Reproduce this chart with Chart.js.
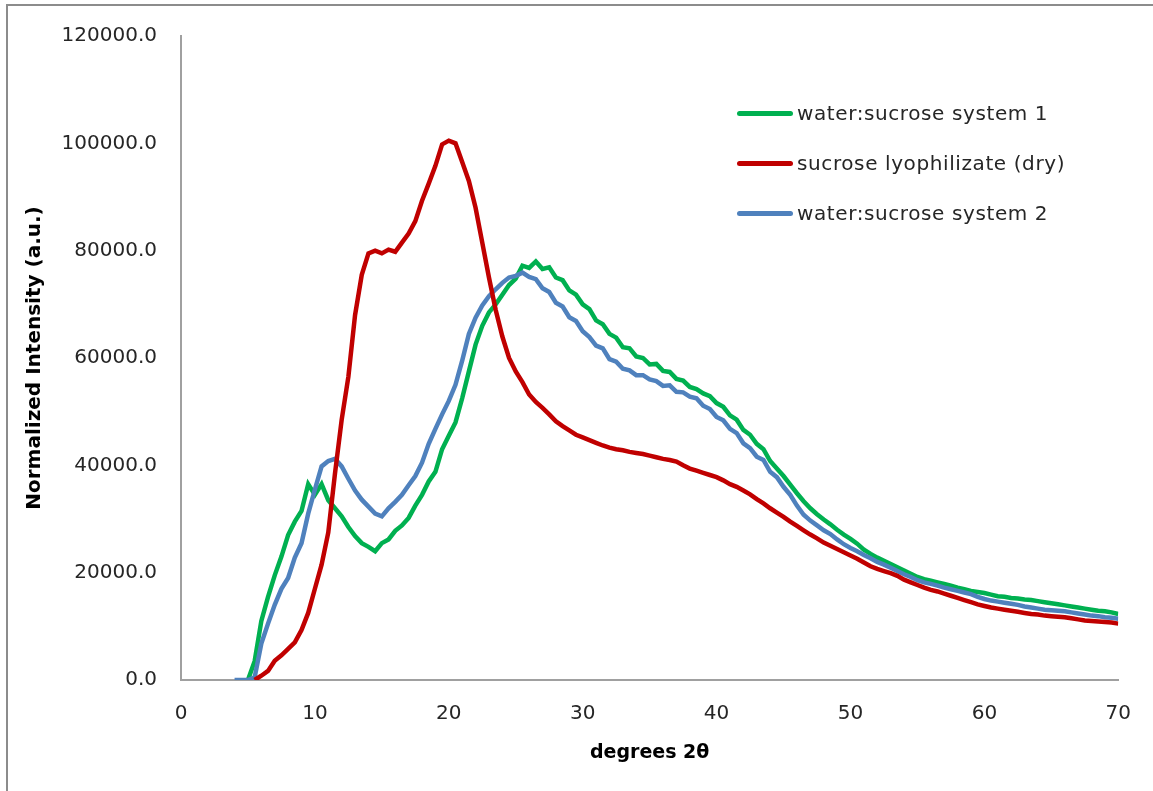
<!DOCTYPE html>
<html>
<head>
<meta charset="utf-8">
<script src="https://cdn.jsdelivr.net/npm/chart.js@4/dist/chart.umd.min.js"></script>
<style>
  html, body { margin: 0; padding: 0; background: #fff; overflow: hidden; }
  #wrap { position: relative; width: 1153px; height: 791px; overflow: hidden; }
  #frame { position: absolute; left: 6px; top: 4px; width: 1200px; height: 900px; border: 2px solid #8c8c8c; pointer-events: none; }
  #legend { position: absolute; left: 737px; top: 100px; font-family: "DejaVu Sans", sans-serif; font-size: 20px; color: #262626; letter-spacing: 0.6px; }
  .item { position: absolute; left: 0; height: 26px; white-space: nowrap; }
  .item span.sw { position: absolute; left: 0; top: 11px; width: 56px; height: 5px; border-radius: 3px; }
  .item span.tx { position: absolute; left: 60px; top: 0; line-height: 26px; }
</style>
</head>
<body>
<div id="wrap">
  <canvas id="xrdChart" width="1153" height="791"></canvas>
  <div id="frame"></div>
  <div id="legend"></div>
</div>
<script>
// degrees 2theta, 0.5 step
const angles = [
  4, 4.5, 5, 5.5, 6, 6.5, 7, 7.5, 8, 8.5,
  9, 9.5, 10, 10.5, 11, 11.5, 12, 12.5, 13, 13.5,
  14, 14.5, 15, 15.5, 16, 16.5, 17, 17.5, 18, 18.5,
  19, 19.5, 20, 20.5, 21, 21.5, 22, 22.5, 23, 23.5,
  24, 24.5, 25, 25.5, 26, 26.5, 27, 27.5, 28, 28.5,
  29, 29.5, 30, 30.5, 31, 31.5, 32, 32.5, 33, 33.5,
  34, 34.5, 35, 35.5, 36, 36.5, 37, 37.5, 38, 38.5,
  39, 39.5, 40, 40.5, 41, 41.5, 42, 42.5, 43, 43.5,
  44, 44.5, 45, 45.5, 46, 46.5, 47, 47.5, 48, 48.5,
  49, 49.5, 50, 50.5, 51, 51.5, 52, 52.5, 53, 53.5,
  54, 54.5, 55, 55.5, 56, 56.5, 57, 57.5, 58, 58.5,
  59, 59.5, 60, 60.5, 61, 61.5, 62, 62.5, 63, 63.5,
  64, 64.5, 65, 65.5, 66, 66.5, 67, 67.5, 68, 68.5,
  69, 69.5, 70
];

const system1 = [
  null, null, 0, 3500, 11000, 15500, 19500, 23000, 27000, 29500,
  31500, 36500, 34500, 36500, 33500, 32000, 30500, 28500, 26800, 25500,
  24800, 24000, 25500, 26200, 27800, 28800, 30200, 32500, 34500, 37000,
  38800, 43000, 45500, 48000, 52500, 57500, 62500, 66000, 68500, 70000,
  71800, 73600, 74800, 77200, 76800, 78000, 76600, 76900, 75000, 74500,
  72600, 71800, 70000, 69100, 67000, 66300, 64500, 63800, 62000, 61800,
  60300, 60000, 58800, 58900, 57600, 57400, 56100, 55800, 54600, 54200,
  53400, 52900, 51600, 50900, 49300, 48500, 46600, 45700, 44000, 43000,
  40800, 39400, 38000, 36400, 34800, 33300, 32000, 30900, 29900, 29000,
  28000, 27100, 26300, 25400, 24300, 23500, 22800, 22200, 21600, 21000,
  20400, 19800, 19200, 18800, 18500, 18200, 17900, 17600, 17200, 16900,
  16600, 16400, 16200, 15900, 15600, 15500, 15300, 15200, 15000, 14900,
  14700, 14500, 14300, 14100, 13900, 13700, 13500, 13300, 13100, 12900,
  12800, 12600, 12300
];

const lyophilizate = [
  null, null, null, 0, 800, 1700, 3600, 4600, 5800, 7000,
  9300, 12500, 17000, 21500, 27500, 38500, 48500, 56500, 68000, 75500,
  79500, 80000, 79500, 80200, 79800, 81500, 83200, 85500, 89300, 92500,
  95800, 99800, 100500, 100000, 96500, 93000, 88000, 81500, 75000, 69000,
  64000, 60000, 57500, 55500, 53200, 51800, 50700, 49500, 48200, 47300,
  46500, 45700, 45200, 44700, 44200, 43700, 43300, 43000, 42800, 42500,
  42300, 42100, 41800, 41500, 41200, 41000, 40700, 40000, 39400, 39000,
  38600, 38200, 37800, 37200, 36500, 36000, 35300, 34600, 33700, 32900,
  32000, 31200, 30400, 29500, 28700, 27900, 27100, 26400, 25600, 25000,
  24400, 23800, 23200, 22600, 21900, 21200, 20700, 20300, 19900, 19400,
  18700, 18200, 17700, 17200, 16800, 16500, 16100, 15700, 15300, 14900,
  14500, 14100, 13800, 13500, 13300, 13100, 12900, 12700, 12500, 12300,
  12200, 12000, 11900, 11800, 11700, 11500, 11300, 11100, 11000, 10900,
  10800, 10700, 10500
];

const system2 = [
  0, 0, 0, 500, 6800, 10500, 14000, 17000, 19000, 22800,
  25500, 31000, 35500, 39800, 40800, 41200, 39800, 37500, 35300, 33600,
  32300, 31000, 30500, 32000, 33200, 34500, 36300, 38000, 40500, 44000,
  46800, 49500, 52000, 55000, 59500, 64500, 67500, 69800, 71500, 72800,
  74000, 75000, 75300, 75900, 75100, 74700, 73000, 72300, 70300, 69600,
  67600, 66900, 65000, 63900, 62300, 61800, 59800, 59300, 58000, 57700,
  56800, 56800, 56000, 55700, 54800, 54900, 53700, 53600, 52800, 52500,
  51100, 50500, 49000, 48400, 46800, 46000, 44100, 43200, 41600, 41000,
  38800, 37800, 36000, 34500, 32500, 30800, 29700, 28800, 27900, 27200,
  26200, 25300, 24600, 24000, 23300, 22700, 22000, 21500, 20900, 20300,
  19700, 19200, 18600, 18200, 17900, 17600, 17200, 16900, 16600, 16300,
  16000, 15500, 15100, 14800, 14600, 14400, 14200, 14000, 13700, 13500,
  13300, 13100, 13000, 12900, 12800, 12600, 12400, 12200, 12000, 11900,
  11700, 11600, 11400
];

const seriesNames = ['water:sucrose system 1', 'sucrose lyophilizate (dry)', 'water:sucrose system 2'];
const seriesColors = ['#00b050', '#c00000', '#4f81bd'];
const seriesData = [system1, lyophilizate, system2];
// lower order is drawn on top: red over blue over green
const drawOrder = [3, 1, 2];

const toPoints = arr => arr.map((v, i) => ({ x: angles[i], y: v }));

const tickFont = { family: 'DejaVu Sans', size: 20 };

const datasets = seriesData.map((arr, i) => ({
  label: seriesNames[i],
  data: toPoints(arr),
  borderColor: seriesColors[i],
  backgroundColor: seriesColors[i],
  borderWidth: 4.5,
  pointRadius: 0,
  tension: 0,
  order: drawOrder[i]
}));

const chart = new Chart(document.getElementById('xrdChart'), {
  type: 'line',
  data: { datasets: datasets },
  options: {
    responsive: false,
    animation: false,
    layout: { padding: { left: 0, top: 35, right: 33, bottom: 0 } },
    scales: {
      x: {
        type: 'linear',
        min: 0,
        max: 70,
        ticks: { stepSize: 10, font: tickFont, color: '#262626', padding: 22, maxRotation: 0 },
        grid: { display: false, drawTicks: false },
        border: { display: true, color: '#a0a0a0', width: 2 },
        title: { display: true, text: 'degrees 2θ', font: { family: 'DejaVu Sans', size: 19, weight: 'bold' }, color: '#000', padding: { top: 0, bottom: 27 } },
        afterFit: s => { s.height = 111; }
      },
      y: {
        min: 0,
        max: 120000,
        ticks: { stepSize: 20000, font: tickFont, color: '#262626', padding: 24, callback: v => v.toFixed(1) },
        grid: { display: false, drawTicks: false },
        border: { display: true, color: '#a0a0a0', width: 2 },
        title: { display: true, text: 'Normalized Intensity (a.u.)', font: { family: 'DejaVu Sans', size: 20, weight: 'bold' }, color: '#000', padding: { top: 23, bottom: 0 } },
        afterFit: s => { s.width = 181; }
      }
    },
    plugins: {
      legend: { display: false },
      tooltip: { enabled: false }
    }
  }
});

// legend inside the plot, top right
const legendBox = document.getElementById('legend');
seriesNames.forEach((name, i) => {
  const row = document.createElement('div');
  row.className = 'item';
  row.style.top = (i * 50) + 'px';
  row.innerHTML = '<span class="sw" style="background:' + seriesColors[i] + '"></span><span class="tx">' + name + '</span>';
  legendBox.appendChild(row);
});
</script>
</body>
</html>
